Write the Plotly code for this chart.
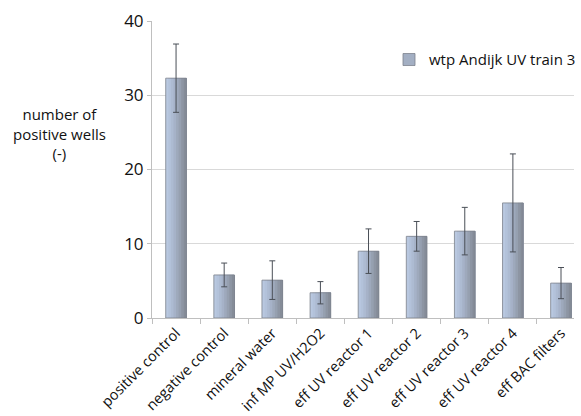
import plotly.graph_objects as go

categories = ["positive control", "negative control", "mineral water", "inf MP UV/H2O2",
              "eff UV reactor 1", "eff UV reactor 2", "eff UV reactor 3", "eff UV reactor 4",
              "eff BAC filters"]
values = [32.3, 5.8, 5.1, 3.4, 9.0, 11.0, 11.7, 15.5, 4.7]
errors = [4.6, 1.6, 2.6, 1.5, 3.0, 2.0, 3.2, 6.6, 2.1]
series_name = "wtp Andijk UV train 3"
y_ticks = [0, 10, 20, 30, 40]

font_family = "Open Sans, Lato, sans-serif"
fig = go.Figure()

# gradient bars built from layered bars (each starts further right, covering to the right edge)
stripe_colors = ["#b9c8e0", "#b3c2da", "#adbbd2", "#a6b2c8", "#9ea9bc", "#96a0b0", "#8d95a3", "#858c98"]
w = 0.43
n = len(stripe_colors)
for i, c in enumerate(stripe_colors):
    fig.add_trace(go.Bar(
        x=categories, y=values, width=w - i * w / n, offset=-w / 2 + i * w / n,
        marker=dict(color=c, line=dict(width=0)), showlegend=False, hoverinfo="skip"))

# outline + error bars
fig.add_trace(go.Bar(
    x=categories, y=values, width=w, offset=-w / 2,
    marker=dict(color="rgba(0,0,0,0)", line=dict(color="#7c828c", width=0.8)),
    error_y=dict(type="data", array=errors, visible=True, color="#4a4f57", thickness=1, width=3),
    showlegend=False))

# legend entry
fig.add_trace(go.Bar(
    x=[None], y=[None], name=series_name,
    marker=dict(color="#a3afc3", line=dict(color="#7c828c", width=0.8)), showlegend=True))

fig.update_layout(
    width=581, height=416,
    margin=dict(l=152, r=0, t=21, b=98),
    barmode="overlay",
    plot_bgcolor="white", paper_bgcolor="white",
    font=dict(family=font_family, size=14, color="#111111"),
    showlegend=True,
    legend=dict(x=0.562, y=0.925, xanchor="left", yanchor="top",
                font=dict(size=15, color="#111111"), bgcolor="rgba(0,0,0,0)"),
    xaxis=dict(type="category", range=[-0.5, 8.27], tickangle=-45, automargin=False,
               showline=True, linecolor="#bfbfbf", linewidth=1,
               ticks="outside", ticklen=5, tickcolor="#bfbfbf", tickson="boundaries",
               showgrid=False, tickfont=dict(size=14.5, color="#111111")),
    yaxis=dict(range=[0, 40], tickvals=y_ticks, showgrid=True, gridcolor="#d9d9d9", gridwidth=1,
               automargin=False,
               showline=True, linecolor="#bfbfbf", linewidth=1,
               ticks="outside", ticklen=4, tickcolor="#bfbfbf",
               tickfont=dict(size=17, color="#111111"), zeroline=False),
    annotations=[dict(text="number of<br>positive wells<br>(-)", xref="paper", yref="paper",
                      x=(58 - 152) / 429, y=1 - (133 - 21) / 297, xanchor="center", yanchor="middle",
                      showarrow=False, align="center", font=dict(size=15, color="#111111"))],
)

fig.write_html("out.html", config={"displayModeBar": False},
               post_script="document.body.style.margin='0';")
